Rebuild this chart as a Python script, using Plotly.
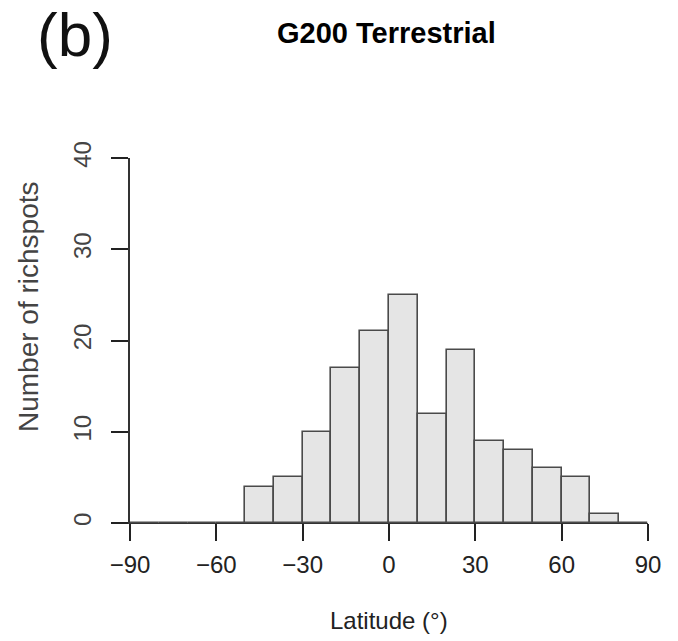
import plotly.graph_objects as go

# Histogram data: latitude bins (degrees) and counts
bin_edges = [-90, -80, -70, -60, -50, -40, -30, -20, -10, 0, 10, 20, 30, 40, 50, 60, 70, 80, 90]
counts = [0, 0, 0, 0, 4, 5, 10, 17, 21, 25, 12, 19, 9, 8, 6, 5, 1, 0]
x_ticks = [-90, -60, -30, 0, 30, 60, 90]
y_ticks = [0, 10, 20, 30, 40]

centers = [(a + b) / 2 for a, b in zip(bin_edges[:-1], bin_edges[1:])]
widths = [b - a for a, b in zip(bin_edges[:-1], bin_edges[1:])]

FONT = "Liberation Sans, Arial, Helvetica, sans-serif"

fig = go.Figure()
fig.add_trace(go.Bar(
    x=centers, y=counts, width=widths,
    marker=dict(color="#e5e5e5", line=dict(color="#4a4a4a", width=1.6)),
    hoverinfo="x+y",
))

W, H = 678, 641
L, R, T, B = 130, 30, 158, 118

fig.update_layout(
    width=W, height=H,
    margin=dict(l=L, r=R, t=T, b=B),
    plot_bgcolor="white", paper_bgcolor="white",
    showlegend=False,
    bargap=0,
    font=dict(family=FONT, color="#222222"),
    xaxis=dict(
        range=[bin_edges[0], bin_edges[-1]],
        tickvals=x_ticks,
        ticktext=[("\u2212" + str(abs(v))) if v < 0 else str(v) for v in x_ticks],
        showline=True, linecolor="#333333", linewidth=1.2,
        ticks="outside", ticklen=17, tickwidth=1.6, tickcolor="#222222",
        showgrid=False, zeroline=False,
        tickfont=dict(size=24, color="#222222"),
        ticklabelstandoff=3,
    ),
    yaxis=dict(
        range=[0, 40],
        tickvals=y_ticks,
        showline=True, linecolor="#333333", linewidth=1.6,
        ticks="outside", ticklen=17, tickwidth=1.6, tickcolor="#222222",
        showgrid=False, zeroline=False,
        tickangle=-90,
        tickfont=dict(size=24, color="#444444"),
        ticklabelstandoff=11,
    ),
)

pw = W - L - R
ph = H - T - B

def px_to_paper(x, y):
    return (x - L) / pw, (H - B - y) / ph

ax, ay = px_to_paper(386, 33)
fig.add_annotation(text="<b>G200 Terrestrial</b>", x=ax, y=ay, xref="paper", yref="paper",
                   showarrow=False, font=dict(size=29, color="#000000", family=FONT),
                   xanchor="center", yanchor="middle")
bx, by = px_to_paper(75, 34)
fig.add_annotation(text="(b)", x=bx, y=by, xref="paper", yref="paper",
                   showarrow=False, font=dict(size=62, color="#111111", family=FONT),
                   xanchor="center", yanchor="middle")
lx, ly = px_to_paper(389, 620)
fig.add_annotation(text="Latitude (\u00b0)", x=lx, y=ly, xref="paper", yref="paper",
                   showarrow=False, font=dict(size=24, color="#222222", family=FONT),
                   xanchor="center", yanchor="middle")
yx, yy = px_to_paper(28, 307)
fig.add_annotation(text="Number of richspots", x=yx, y=yy, xref="paper", yref="paper",
                   showarrow=False, textangle=-90, font=dict(size=28, color="#444444", family=FONT),
                   xanchor="center", yanchor="middle")

fig.write_html("out.html")
